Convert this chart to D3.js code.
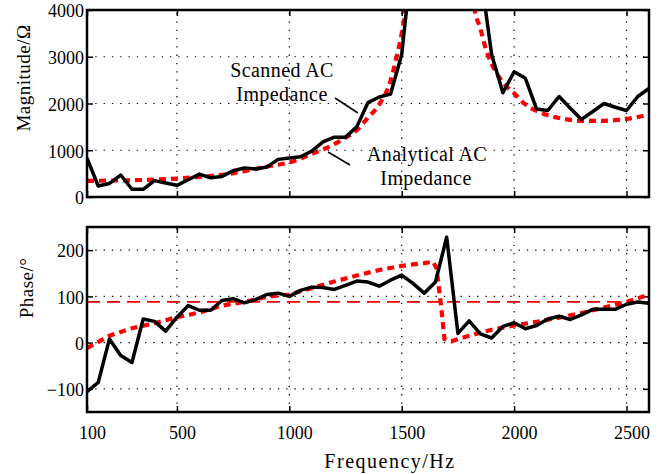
<!DOCTYPE html>
<html>
<head>
<meta charset="utf-8">
<script src="https://cdn.jsdelivr.net/npm/d3@7/dist/d3.min.js"></script>
<style>
  body { margin: 0; background: #fff; }
  text { font-family: 'Liberation Serif', 'Times New Roman', serif; fill: #000; }
</style>
</head>
<body>
<svg id="chart" width="670" height="474"></svg>
<script>
// scanned data (every 50 Hz)
const freqScan = [100, 150, 200, 250, 300, 350, 400, 450, 500, 550, 600, 650, 700, 750, 800, 850, 900, 950,
  1000, 1050, 1100, 1150, 1200, 1250, 1300, 1350, 1400, 1450, 1500, 1550, 1600, 1650, 1700, 1750, 1800, 1850,
  1900, 1950, 2000, 2050, 2100, 2150, 2200, 2250, 2300, 2350, 2400, 2450, 2500, 2550, 2600]
const magScan = [830, 235, 290, 470, 165, 165, 350, 300, 250, 370, 490, 410, 440, 560, 620, 600, 640, 805,
  835, 860, 980, 1180, 1280, 1280, 1500, 2020, 2140, 2200, 3050, 5300, 7000, 9000, 9000, 7000, 5500, 4800,
  3050, 2230, 2680, 2540, 1880, 1850, 2150, 1900, 1660, 1830, 2000, 1920, 1850, 2150, 2320]
const phaseScan = [-106, -86, 8, -28, -43, 51, 46, 25, 55, 80, 70, 70, 91, 95, 86, 93, 104, 107,
  100, 113, 120, 119, 115, 124, 133, 131, 122, 135, 146, 128, 107, 131, 228, 20, 47, 19,
  10, 35, 43, 30, 37, 51, 57, 50, 60, 72, 72, 72, 83, 88, 85]

// analytical curves
const freqMagAna = [100, 200, 300, 400, 500, 600, 700, 800, 900, 1000, 1100, 1200, 1250, 1300, 1350, 1400, 1450,
  1475, 1500, 1525, 1550, 1800, 1825, 1850, 1875, 1900, 1950, 2000, 2050, 2100, 2150, 2200, 2300, 2400, 2450,
  2500, 2550, 2600]
const magAna = [345, 350, 358, 372, 395, 430, 475, 550, 650, 740, 920, 1130, 1270, 1430, 1700, 1980, 2480,
  2950, 3500, 4300, 5500, 5000, 4000, 3600, 3150, 2850, 2450, 2220, 1980, 1840, 1750, 1690, 1630, 1630, 1645,
  1670, 1710, 1770]
const freqPhaseAna = [100, 200, 300, 400, 500, 600, 700, 800, 900, 1000, 1100, 1200, 1300, 1400, 1500, 1600,
  1640, 1655, 1675, 1690, 1720, 1800, 1900, 2000, 2100, 2200, 2300, 2400, 2500, 2600]
const phaseAna = [-12, 15, 31, 42, 55, 65, 80, 88, 99, 104, 118, 132, 145, 157, 166, 172,
  175, 160, 80, 8, 3, 15, 28, 37, 45, 54, 64, 76, 88, 104]

const phaseRef = 88

const xTicks = [100, 500, 1000, 1500, 2000, 2500]
const magTicks = [0, 1000, 2000, 3000, 4000]
const phaseTicks = [-100, 0, 100, 200]

const svg = d3.select('#chart')
const left = 87
const right = 649

const x = d3.scaleLinear().domain([100, 2600]).range([left, right])
const yMag = d3.scaleLinear().domain([0, 4000]).range([197, 10])
const yPh = d3.scaleLinear().domain([-150, 250]).range([412, 227])

function panel (id, y, yTicks, showX) {
  const g = svg.append('g')
  const [y0, y1] = y.range()
  g.append('clipPath').attr('id', id)
    .append('rect').attr('x', left).attr('y', y1).attr('width', right - left).attr('height', y0 - y1)

  // dotted grid
  g.append('g').selectAll('line')
    .data(yTicks.filter(t => y(t) < y0 - 1 && y(t) > y1 + 1))
    .enter().append('line')
    .attr('x1', left).attr('x2', right).attr('y1', d => y(d)).attr('y2', d => y(d))
    .attr('stroke', '#000').attr('stroke-width', 1.2).attr('stroke-dasharray', '1.3,7')
  g.append('g').selectAll('line')
    .data(xTicks.filter(t => x(t) > left + 1))
    .enter().append('line')
    .attr('y1', y0).attr('y2', y1).attr('x1', d => x(d)).attr('x2', d => x(d))
    .attr('stroke', '#000').attr('stroke-width', 1.2).attr('stroke-dasharray', '1.3,7')

  // inward ticks on all four sides
  const tl = 6
  g.append('g').call(d3.axisLeft(y).tickValues(yTicks).tickSizeInner(-tl).tickSizeOuter(0).tickPadding(3)
    .tickFormat(d3.format('d')))
    .attr('transform', `translate(${left},0)`)
    .call(a => a.select('.domain').remove())
    .call(a => a.selectAll('line').attr('stroke-width', 1.5))
    .call(a => a.selectAll('text').attr('font-size', 18).attr('dy', '0.38em'))
  g.append('g').call(d3.axisRight(y).tickValues(yTicks).tickSizeInner(-tl).tickSizeOuter(0).tickFormat(''))
    .attr('transform', `translate(${right},0)`)
    .call(a => a.select('.domain').remove())
    .call(a => a.selectAll('line').attr('stroke-width', 1.5))
  g.append('g').call(d3.axisBottom(x).tickValues(xTicks).tickSizeInner(-tl).tickSizeOuter(0).tickPadding(14)
    .tickFormat(showX ? d3.format('d') : ''))
    .attr('transform', `translate(0,${y0})`)
    .call(a => a.select('.domain').remove())
    .call(a => a.selectAll('line').attr('stroke-width', 1.5))
    .call(a => a.selectAll('text').attr('font-size', 18).attr('dx', 5))
  g.append('g').call(d3.axisTop(x).tickValues(xTicks).tickSizeInner(-tl).tickSizeOuter(0).tickFormat(''))
    .attr('transform', `translate(0,${y1})`)
    .call(a => a.select('.domain').remove())
    .call(a => a.selectAll('line').attr('stroke-width', 1.5))
  g.selectAll('.tick text').attr('font-family', null).style('font-family', "'Liberation Serif', serif")

  const plot = g.append('g').attr('clip-path', `url(#${id})`)
  return { g, plot, y0, y1 }
}

function frame (p) {
  p.g.append('rect')
    .attr('x', left).attr('y', p.y1).attr('width', right - left).attr('height', p.y0 - p.y1)
    .attr('fill', 'none').attr('stroke', '#000').attr('stroke-width', 2.5)
}

// magnitude panel
const magPanel = panel('clipMag', yMag, magTicks, false)
magPanel.plot.append('path')
  .datum(freqMagAna.map((f, i) => [f, magAna[i]]))
  .attr('d', d3.line().x(d => x(d[0])).y(d => yMag(d[1])).curve(d3.curveMonotoneX))
  .attr('fill', 'none').attr('stroke', '#ff0000').attr('stroke-width', 4.2).attr('stroke-dasharray', '7,5')
magPanel.plot.append('path')
  .datum(freqScan.map((f, i) => [f, magScan[i]]))
  .attr('d', d3.line().x(d => x(d[0])).y(d => yMag(d[1])))
  .attr('fill', 'none').attr('stroke', '#000').attr('stroke-width', 3.5).attr('stroke-linejoin', 'round')
frame(magPanel)

// annotations
const ann = svg.append('g').attr('font-size', 20).attr('text-anchor', 'middle').attr('letter-spacing', 0.4)
ann.append('text').attr('x', 282).attr('y', 77).text('Scanned AC')
ann.append('text').attr('x', 282).attr('y', 101).text('Impedance')
ann.append('text').attr('x', 427).attr('y', 161).text('Analytical AC')
ann.append('text').attr('x', 426).attr('y', 185).text('Impedance')
svg.append('line').attr('x1', 335).attr('y1', 98).attr('x2', 358).attr('y2', 113)
  .attr('stroke', '#000').attr('stroke-width', 1.5)
svg.append('line').attr('x1', 328).attr('y1', 152).attr('x2', 350).attr('y2', 165)
  .attr('stroke', '#000').attr('stroke-width', 1.5)

// phase panel
const phPanel = panel('clipPh', yPh, phaseTicks, true)
phPanel.plot.append('line')
  .attr('x1', left).attr('x2', right).attr('y1', yPh(phaseRef)).attr('y2', yPh(phaseRef))
  .attr('stroke', '#ff0000').attr('stroke-width', 1.7).attr('stroke-dasharray', '13,7')
phPanel.plot.append('path')
  .datum(freqPhaseAna.map((f, i) => [f, phaseAna[i]]))
  .attr('d', d3.line().x(d => x(d[0])).y(d => yPh(d[1])))
  .attr('fill', 'none').attr('stroke', '#ff0000').attr('stroke-width', 4.2).attr('stroke-dasharray', '7,5')
phPanel.plot.append('path')
  .datum(freqScan.map((f, i) => [f, phaseScan[i]]))
  .attr('d', d3.line().x(d => x(d[0])).y(d => yPh(d[1])))
  .attr('fill', 'none').attr('stroke', '#000').attr('stroke-width', 3.5).attr('stroke-linejoin', 'round')
frame(phPanel)

// axis titles
svg.append('text').attr('transform', 'translate(30,78) rotate(-90)')
  .attr('text-anchor', 'middle').attr('font-size', 19).attr('letter-spacing', 0.5).text('Magnitude/Ω')
svg.append('text').attr('transform', 'translate(33,288) rotate(-90)')
  .attr('text-anchor', 'middle').attr('font-size', 19).attr('letter-spacing', 0.5).text('Phase/°')
svg.append('text').attr('x', 390).attr('y', 468)
  .attr('text-anchor', 'middle').attr('font-size', 20).attr('letter-spacing', 1.5).text('Frequency/Hz')
</script>
</body>
</html>
